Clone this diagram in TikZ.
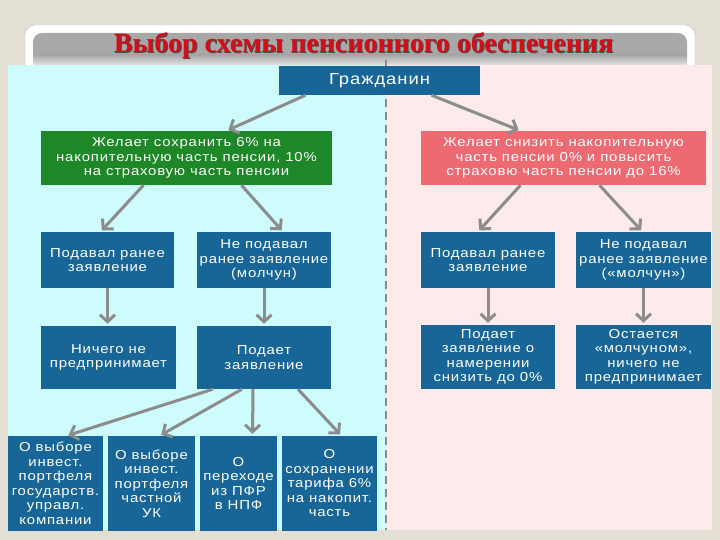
\documentclass[tikz,border=0pt]{standalone}
\usepackage{fontspec}
\setmainfont{Liberation Serif}
\setsansfont{Liberation Sans}
\newfontfamily\boxfont[FakeStretch=1.15,LetterSpace=6]{Liberation Sans}
\usetikzlibrary{positioning, arrows.meta}
\definecolor{pagebg}{RGB}{228,223,213}
\definecolor{framegray}{RGB}{190,190,190}
\definecolor{bargray}{RGB}{168,168,168}
\definecolor{cyanbg}{RGB}{206,252,252}
\definecolor{pinkbg}{RGB}{253,234,234}
\definecolor{boxblue}{RGB}{24,102,152}
\definecolor{boxgreen}{RGB}{30,135,40}
\definecolor{boxred}{RGB}{238,106,114}
\definecolor{arrowgray}{RGB}{140,140,140}
\definecolor{titlered}{RGB}{210,15,25}
\tikzset{
>={Straight Barb[length=7pt,width=15pt]}, % open V heads like the slide
blk/.style={fill=boxblue, text=white, align=center, inner sep=0pt,
  font=\boxfont\fontsize{13}{14.5}\selectfont}, % every blue block
grn/.style={blk, fill=boxgreen}, % green choice block
rd/.style={blk, fill=boxred}, % red choice block
link/.style={->, draw=arrowgray, line width=3pt, shorten >=2pt}, % gray connectors
}

\begin{document}
\begin{tikzpicture}[x=1pt, y=-1pt]
  \useasboundingbox (0,0) rectangle (720,540);
  % slide background
  \fill[pagebg] (0,0) rectangle (720,540);
  \filldraw[fill=white, draw=framegray, rounded corners=10pt] (25,25) rectangle (695,530);
  \fill[bargray, rounded corners=9pt] (33,33) rectangle (687,64);
  \shade[top color=bargray, bottom color=white] (33,55) rectangle (687,70);
  \fill[cyanbg] (8,65) rectangle (386,530);
  \fill[pinkbg] (386,65) rectangle (712,530);
  \draw[arrowgray, line width=2.5pt, dash pattern=on 8pt off 5pt] (386,60) -- (386,530);

  % title
  \node[text=black!70, font=\bfseries\fontsize{28}{32}\selectfont] (shadow) at (364.5,46) {Выбор схемы пенсионного обеспечения};
  \node[text=titlered, font=\bfseries\fontsize{28}{32}\selectfont] (title) at (363.5,45) {Выбор схемы пенсионного обеспечения};

  \node[blk, minimum width=201pt, minimum height=29pt, font=\boxfont\fontsize{16}{18}\selectfont] (citizen) at (379.5,80.5) {Гражданин};
  \node[grn, minimum width=291pt, minimum height=54pt] (keep) at (186.5,158) {Желает сохранить 6\% на\\накопительную часть пенсии, 10\%\\на страховую часть пенсии};
  \node[rd, minimum width=285pt, minimum height=54pt] (lower) at (563.5,158) {Желает снизить накопительную\\часть пенсии 0\% и повысить\\страховю часть пенсии до 16\%};

  \node[blk, minimum width=133pt, minimum height=56pt] (k1) at (107.5,260) {Подавал ранее\\заявление};
  \node[blk, minimum width=134pt, minimum height=56pt] (k2) at (264,260) {Не подавал\\ранее заявление\\(молчун)};
  \node[blk, minimum width=134pt, minimum height=56pt] (l1) at (488,260) {Подавал ранее\\заявление};
  \node[blk, minimum width=135pt, minimum height=56pt] (l2) at (643.5,260) {Не подавал\\ранее заявление\\(«молчун»)};

  \node[blk, minimum width=135pt, minimum height=63pt] (k3) at (108.5,357.5) {Ничего не\\предпринимает};
  \node[blk, minimum width=134pt, minimum height=63pt] (k4) at (264,357.5) {Подает\\заявление};
  \node[blk, minimum width=134pt, minimum height=64pt] (l3) at (488,357) {Подает\\заявление о\\намерении\\снизить до 0\%};
  \node[blk, minimum width=135pt, minimum height=64pt] (l4) at (643.5,357) {Остается\\«молчуном»,\\ничего не\\предпринимает};

  \node[blk, minimum width=95pt, minimum height=95pt] (a1) at (55.5,483.5) {О выборе\\инвест.\\портфеля\\государств.\\управл.\\компании};
  \node[blk, minimum width=87pt, minimum height=95pt] (a2) at (151.5,483.5) {О выборе\\инвест.\\портфеля\\частной\\УК};
  \node[blk, minimum width=77pt, minimum height=95pt] (a3) at (238.5,483.5) {О\\переходе\\из ПФР\\в НПФ};
  \node[blk, minimum width=95pt, minimum height=95pt] (a4) at (329.5,483.5) {О\\сохранении\\тарифа 6\%\\на накопит.\\часть};

  \draw[link] ([xshift=-74pt]citizen.south) -- ([xshift=40pt]keep.north);
  \draw[link] ([xshift=52pt]citizen.south) -- ([xshift=-43pt]lower.north);
  \draw[link] ([xshift=-43pt]keep.south) -- ([xshift=-7pt]k1.north);
  \draw[link] ([xshift=55pt]keep.south) -- ([xshift=19pt]k2.north);
  \draw[link] ([xshift=-43pt]lower.south) -- ([xshift=-10pt]l1.north);
  \draw[link] ([xshift=36pt]lower.south) -- ([xshift=-1pt]l2.north);
  \draw[link] (k1.south) -- (k1.south |- k3.north);
  \draw[link] (k2.south) -- (k2.south |- k4.north);
  \draw[link] (l1.south) -- (l1.south |- l3.north);
  \draw[link] (l2.south) -- (l2.south |- l4.north);
  \draw[link] ([xshift=-51pt]k4.south) -- ([xshift=11pt]a1.north);
  \draw[link] ([xshift=-22pt]k4.south) -- ([xshift=8pt]a2.north);
  \draw[link] ([xshift=-11pt]k4.south) -- ([xshift=14pt]a3.north);
  \draw[link] ([xshift=34pt]k4.south) -- ([xshift=12pt]a4.north);
\end{tikzpicture}
\end{document}
